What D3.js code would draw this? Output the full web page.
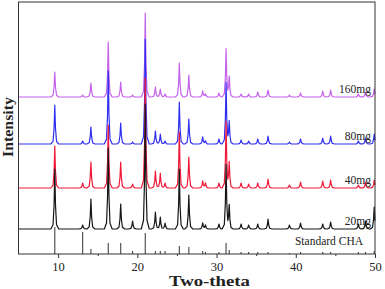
<!DOCTYPE html>
<html>
<head>
<meta charset="utf-8">
<script src="https://cdn.jsdelivr.net/npm/d3@7"></script>
<style>
body { margin: 0; background: #fff; }
svg { display: block; }
text { font-family: "Liberation Serif", "Times New Roman", serif; fill: #222; }
</style>
</head>
<body>
<svg id="chart" width="385" height="289"></svg>
<script>
// 2-theta positions of the reflections
const peakPos = [9.58, 13.1, 14.14, 16.33, 17.9, 19.4, 21.0, 22.28, 22.9, 23.5, 25.3, 26.5, 28.25, 28.6,
  30.3, 31.2, 31.6, 33.1, 34.05, 35.2, 36.5, 39.2, 40.6, 43.4, 44.4, 47.9, 48.8, 49.9];

// peak intensities (a.u.) for each sample
const int160 = [250, 20, 140, 550, 150, 20, 840, 100, 80, 30, 340, 220, 60, 30,
  40, 480, 200, 30, 30, 50, 70, 20, 40, 60, 70, 30, 50, 80];
const int80 = [390, 30, 170, 730, 210, 20, 1050, 130, 100, 30, 420, 250, 70, 30,
  50, 610, 220, 40, 30, 50, 80, 20, 50, 60, 80, 30, 60, 100];
const int40 = [420, 50, 260, 630, 260, 40, 1100, 170, 150, 50, 560, 310, 70, 50,
  50, 660, 250, 50, 40, 50, 90, 30, 60, 70, 80, 30, 60, 80];
const int20 = [600, 40, 300, 810, 250, 80, 1250, 170, 120, 60, 600, 340, 60, 40,
  50, 640, 230, 50, 40, 50, 100, 40, 60, 50, 70, 50, 80, 220];
const intStd = [270, 220, 50, 110, 110, 30, 210, 30, 30, 30, 80, 70, 30, 20,
  20, 110, 40, 20, 20, 20, 20, 10, 20, 20, 20, 20, 20, 30];

const sampleNames = ['160mg', '80mg', '40mg', '20mg'];
const sampleShift = [1570, 1100, 660, 250];
const xTicks = [10, 20, 30, 40, 50];
const xMinor = [15, 25, 35, 45];

const svg = d3.select('#chart');
const x = d3.scaleLinear().domain([5, 50]).range([18.5, 375]);
const y = d3.scaleLinear().domain([0, 2520]).range([254, 2]);

// simple sharp peak profile (offset in degrees, fraction of height)
const shape = [[-0.5, 0], [-0.22, 0.07], [-0.09, 0.4], [0, 1], [0.09, 0.4], [0.22, 0.07], [0.5, 0]];

function profile(d) {
  for (let k = 0; k < shape.length - 1; k++) {
    if (d >= shape[k][0] && d <= shape[k + 1][0]) {
      const f = (d - shape[k][0]) / (shape[k + 1][0] - shape[k][0]);
      return shape[k][1] + f * (shape[k + 1][1] - shape[k][1]);
    }
  }
  return 0;
}

function pattern(heights, shift) {
  let xs = [5, 50];
  peakPos.forEach(p => shape.forEach(s => xs.push(p + s[0])));
  xs = Array.from(new Set(xs.filter(t => t >= 5 && t <= 50))).sort((a, b) => a - b);
  return xs.map(t => {
    let v = 0;
    peakPos.forEach((p, i) => { v += heights[i] * profile(t - p); });
    return [t, shift + v];
  });
}

const line = d3.line().x(d => x(d[0])).y(d => y(d[1]));

// standard CHA sticks
svg.append('g')
  .selectAll('line')
  .data(peakPos)
  .join('line')
  .attr('x1', d => x(d)).attr('x2', d => x(d))
  .attr('y1', y(0)).attr('y2', (d, i) => y(intStd[i]))
  .attr('stroke', '#444').attr('stroke-width', 1.1);

// patterns, drawn top to bottom so lower curves sit on top
const series = [
  { name: sampleNames[0], vals: int160, shift: sampleShift[0], color: '#c462ea' },
  { name: sampleNames[1], vals: int80, shift: sampleShift[1], color: '#2f2ff0' },
  { name: sampleNames[2], vals: int40, shift: sampleShift[2], color: '#f01a3a' },
  { name: sampleNames[3], vals: int20, shift: sampleShift[3], color: '#161616' }
];

series.forEach(s => {
  svg.append('path')
    .datum(pattern(s.vals, s.shift))
    .attr('d', line)
    .attr('fill', 'none')
    .attr('stroke', s.color)
    .attr('stroke-width', 1.2)
    .attr('stroke-linejoin', 'round');
  svg.append('text')
    .attr('x', 371).attr('y', y(s.shift) - 4)
    .attr('text-anchor', 'end')
    .style('font-size', '11.5px')
    .text(s.name);
});

svg.append('text')
  .attr('x', 329).attr('y', 245)
  .attr('text-anchor', 'middle')
  .style('font-size', '11.5px')
  .text('Standard CHA');

// frame
svg.append('rect')
  .attr('x', 18.5).attr('y', 2)
  .attr('width', 375 - 18.5).attr('height', 252)
  .attr('fill', 'none').attr('stroke', '#333').attr('stroke-width', 1);

// x axis
const ax = svg.append('g')
  .attr('transform', 'translate(0,254)')
  .call(d3.axisBottom(x).tickValues(xTicks).tickSize(4).tickPadding(4).tickFormat(d3.format('d')));
ax.select('.domain').remove();
ax.selectAll('line').attr('stroke', '#333');
ax.selectAll('text').style('font-size', '12.5px').style('font-family', '"Liberation Serif", serif').attr('fill', '#222');

const axm = svg.append('g')
  .attr('transform', 'translate(0,254)')
  .call(d3.axisBottom(x).tickValues(xMinor).tickSize(2).tickFormat(''));
axm.select('.domain').remove();
axm.selectAll('line').attr('stroke', '#333');

svg.append('text')
  .attr('x', 209.5).attr('y', 286)
  .attr('text-anchor', 'middle')
  .attr('textLength', 81).attr('lengthAdjust', 'spacingAndGlyphs')
  .style('font-size', '15px').style('font-weight', 'bold')
  .text('Two-theta');

svg.append('text')
  .attr('transform', 'translate(13,127) rotate(-90)')
  .attr('text-anchor', 'middle')
  .attr('textLength', 60).attr('lengthAdjust', 'spacingAndGlyphs')
  .style('font-size', '15px').style('font-weight', 'bold')
  .text('Intensity');
</script>
</body>
</html>
